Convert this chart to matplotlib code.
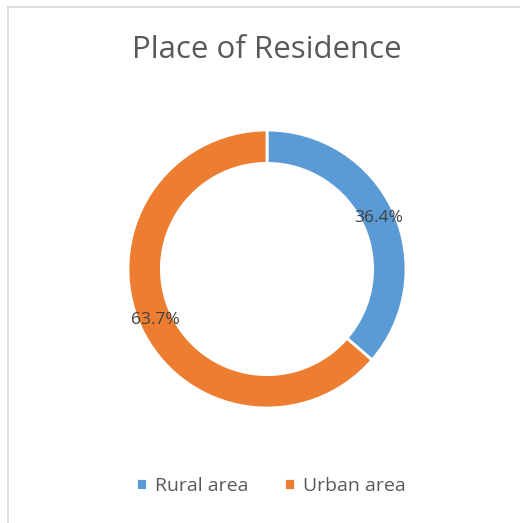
import matplotlib
matplotlib.use("Agg")
import matplotlib.pyplot as plt
from matplotlib.lines import Line2D

# Data
categories = ["Rural area", "Urban area"]
shares = [36.4, 63.7]
colors = ["#5B9BD5", "#ED7D31"]
title = "Place of Residence"

W, H = 520, 523
fig = plt.figure(figsize=(W / 100, H / 100), dpi=100)
fig.patch.set_facecolor("white")

# light frame on top and left edges, like the cropped chart area
fig.add_artist(Line2D([7.5 / W, 1], [1 - 6.5 / H, 1 - 6.5 / H],
                      transform=fig.transFigure, color="#D9D9D9", lw=1.2))
fig.add_artist(Line2D([7.5 / W, 7.5 / W], [0, 1 - 6.5 / H],
                      transform=fig.transFigure, color="#D9D9D9", lw=1.2))

# donut axes: centre (267, 269), outer radius 139 px
cx, cy, r = 267, 269, 139
ax = fig.add_axes([(cx - r) / W, (H - cy - r) / H, 2 * r / W, 2 * r / H])
total = sum(shares)
wedges, _, autotexts = ax.pie(
    shares,
    colors=colors,
    startangle=90,
    counterclock=False,
    radius=1,
    wedgeprops=dict(width=0.24, edgecolor="white", linewidth=2),
    autopct=lambda p: f"{p * total / 100:.1f}%",
    pctdistance=0.88,
    textprops=dict(color="#404040", fontsize=12.5, family="Open Sans"),
)
ax.set_xlim(-1, 1)
ax.set_ylim(-1, 1)
ax.set_aspect("equal")
ax.axis("off")

fig.text(cx / W, 1 - 50 / H, title, ha="center", va="center",
         fontsize=22.5, color="#595959", family="Open Sans")

fig.legend(wedges, categories, loc="center", bbox_to_anchor=(271 / W, 1 - 486 / H),
           ncol=2, frameon=False, handlelength=0.55, handleheight=0.55,
           handletextpad=0.45, columnspacing=1.8,
           prop=dict(family="Open Sans", size=14))
for t in fig.legends[0].get_texts():
    t.set_color("#595959")

fig.savefig("out.png", dpi=100, facecolor="white")
